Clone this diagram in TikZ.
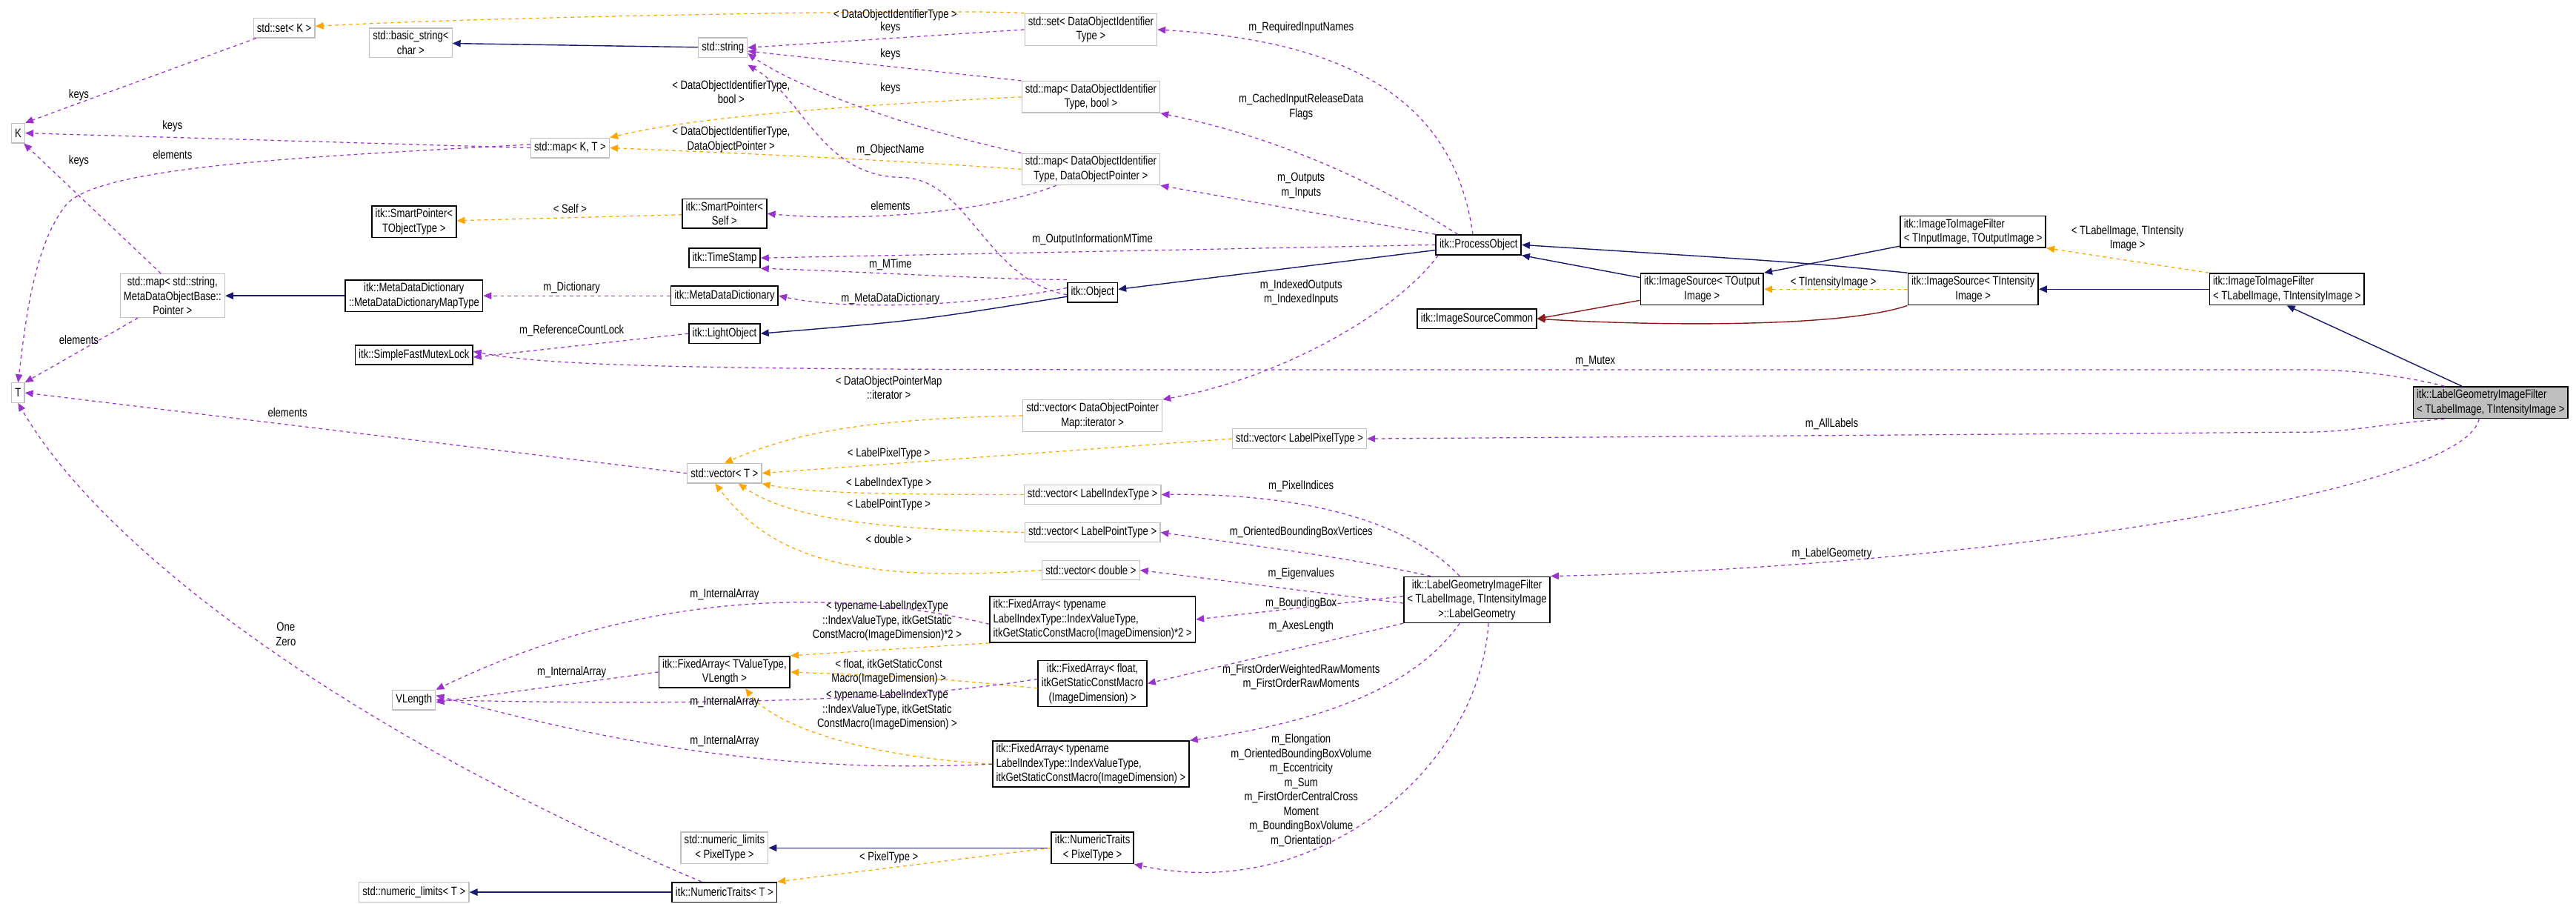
\documentclass[tikz,border=0pt]{standalone}
\usepackage{fontspec}
\setmainfont{Liberation Sans}[FakeStretch=0.8]
\usetikzlibrary{arrows.meta}
\definecolor{pur}{HTML}{9A32CD}
\definecolor{org}{HTML}{FFA500}
\definecolor{blu}{HTML}{191970}
\definecolor{red4}{HTML}{8B1A1A}
\definecolor{gbord}{HTML}{BFBFBF}
\begin{document}
\begin{tikzpicture}[x=0.05cm,y=-0.05cm,font=\fontsize{10.5}{12.5}\selectfont,
 base/.style={rectangle,inner xsep=3pt,inner ysep=2.5pt,minimum height=0.6cm,align=center,fill=white},
 gnode/.style={base,draw=gbord,line width=0.8pt},
 bnode/.style={base,draw=black,line width=1.1pt},
 lbl/.style={align=center,inner sep=1pt},
 use/.style={draw=pur,dashed,line width=0.8pt,-{Triangle[length=7pt,width=6pt]}},
 tmpl/.style={draw=org,dashed,line width=0.8pt,-{Triangle[length=7pt,width=6pt]}},
 inh/.style={draw=blu,line width=0.9pt,-{Triangle[length=7pt,width=6pt]}},
 prot/.style={draw=red4,line width=0.9pt,-{Triangle[length=7pt,width=6pt]}}]
\useasboundingbox (0,0) rectangle (1568,550);
% nodes
\node[gnode] (setK) at (173,17) {std::set\textless{} K \textgreater};
\node[gnode] (bstr) at (250,26) {std::basic\_string\textless\\char \textgreater};
\node[gnode] (str) at (440,29) {std::string};
\node[gnode] (setD) at (664,18) {std::set\textless{} DataObjectIdentifier\\Type \textgreater};
\node[gnode] (mapB) at (664,59) {std::map\textless{} DataObjectIdentifier\\Type, bool \textgreater};
\node[gnode] (mapP) at (664,103) {std::map\textless{} DataObjectIdentifier\\Type, DataObjectPointer \textgreater};
\node[gnode] (K) at (11,81) {K};
\node[gnode] (mapKT) at (347,90) {std::map\textless{} K, T \textgreater};
\node[bnode] (spT) at (252,135) {itk::SmartPointer\textless\\TObjectType \textgreater};
\node[bnode] (spS) at (441,130) {itk::SmartPointer\textless\\Self \textgreater};
\node[bnode] (ts) at (441,157) {itk::TimeStamp};
\node[bnode] (mdd) at (441,180) {itk::MetaDataDictionary};
\node[bnode] (lo) at (441,203) {itk::LightObject};
\node[gnode] (mapS) at (105,180) {std::map\textless{} std::string,\\MetaDataObjectBase::\\Pointer \textgreater};
\node[bnode] (mapT) at (252,180) {itk::MetaDataDictionary\\::MetaDataDictionaryMapType};
\node[bnode] (mutex) at (252,216) {itk::SimpleFastMutexLock};
\node[bnode] (obj) at (665,178) {itk::Object};
\node[bnode] (po) at (900,149) {itk::ProcessObject};
\node[bnode] (isc) at (899,194) {itk::ImageSourceCommon};
\node[bnode] (isO) at (1036,176) {itk::ImageSource\textless{} TOutput\\Image \textgreater};
\node[bnode] (isI) at (1201,176) {itk::ImageSource\textless{} TIntensity\\Image \textgreater};
\node[bnode,align=left] (itiIO) at (1201,141) {itk::ImageToImageFilter\\\textless{} TInputImage, TOutputImage \textgreater};
\node[bnode,align=left] (itiL) at (1392,176) {itk::ImageToImageFilter\\\textless{} TLabelImage, TIntensityImage \textgreater};
\node[bnode,align=left,fill=gbord] (lgif) at (1516,245) {itk::LabelGeometryImageFilter\\\textless{} TLabelImage, TIntensityImage \textgreater};
\node[gnode] (T) at (11,239) {T};
\node[gnode] (vl) at (252,426) {VLength};
\node[gnode] (nlT) at (252,543) {std::numeric\_limits\textless{} T \textgreater};
\node[bnode] (ntT) at (441,543) {itk::NumericTraits\textless{} T \textgreater};
\node[gnode] (nlP) at (441,516) {std::numeric\_limits\\\textless{} PixelType \textgreater};
\node[bnode] (ntP) at (665,516) {itk::NumericTraits\\\textless{} PixelType \textgreater};
\node[gnode] (vT) at (441,288) {std::vector\textless{} T \textgreater};
\node[gnode] (vIt) at (665,253) {std::vector\textless{} DataObjectPointer\\Map::iterator \textgreater};
\node[gnode] (vPix) at (791,267) {std::vector\textless{} LabelPixelType \textgreater};
\node[gnode] (vIdx) at (665,301) {std::vector\textless{} LabelIndexType \textgreater};
\node[gnode] (vPt) at (665,324) {std::vector\textless{} LabelPointType \textgreater};
\node[gnode] (vD) at (664,347) {std::vector\textless{} double \textgreater};
\node[bnode,align=left] (fa2) at (665,377) {itk::FixedArray\textless{} typename\\ LabelIndexType::IndexValueType,\\ itkGetStaticConstMacro(ImageDimension)*2 \textgreater};
\node[bnode] (faTV) at (441,409) {itk::FixedArray\textless{} TValueType,\\VLength \textgreater};
\node[bnode] (faF) at (665,416) {itk::FixedArray\textless{} float,\\itkGetStaticConstMacro\\(ImageDimension) \textgreater};
\node[bnode,align=left] (faI) at (664,465) {itk::FixedArray\textless{} typename\\ LabelIndexType::IndexValueType,\\ itkGetStaticConstMacro(ImageDimension) \textgreater};
\node[bnode] (lg) at (899,365) {itk::LabelGeometryImageFilter\\\textless{} TLabelImage, TIntensityImage\\ \textgreater::LabelGeometry};
% coordinates for routing
\coordinate (mx) at (1403,225);
\coordinate (ax) at (1403,263);
% inheritance
\draw[inh] (str) -- (bstr);
\draw[inh] (mapT) -- (mapS);
\draw[inh] (obj) .. controls (560,195) .. (lo.east);
\draw[inh] (po) -- (obj);
\draw[inh] (isO) -- (po.south east);
\draw[inh] (isI.north west) .. controls (1100,160) .. (po.east);
\draw[inh] (itiIO) -- (isO.north east);
\draw[inh] (itiL) -- (isI);
\draw[inh] (lgif.north west) ++(30,0) -- (itiL.south);
\draw[inh] (ntP) -- (nlP);
\draw[inh] (ntT) -- (nlT);
\draw[prot] (isO) -- (isc.east);
\draw[prot] (isI.south west) .. controls (1120,200) and (1000,198) .. (isc.east);
% template
\draw[tmpl] (setD.north west) .. controls (600,5) and (300,10) .. (setK);
\node[lbl] at (545,9) {\textless{} DataObjectIdentifierType \textgreater};
\draw[tmpl] (mapB.west) .. controls (500,65) and (420,72) .. (mapKT.north east);
\node[lbl] at (445,56) {\textless{} DataObjectIdentifierType,\\bool \textgreater};
\draw[tmpl] (mapP.west) .. controls (520,96) and (420,92) .. (mapKT.east);
\node[lbl] at (445,85) {\textless{} DataObjectIdentifierType,\\DataObjectPointer \textgreater};
\draw[tmpl] (spS) -- (spT);
\node[lbl] at (347,127) {\textless{} Self \textgreater};
\draw[tmpl] (isI) -- (isO);
\node[lbl] at (1116,172) {\textless{} TIntensityImage \textgreater};
\draw[tmpl] (itiL.north west) -- (itiIO.south east);
\node[lbl] at (1295,145) {\textless{} TLabelImage, TIntensity\\Image \textgreater};
\draw[tmpl] (vIt.west) .. controls (520,255) and (480,265) .. (vT.north);
\node[lbl] at (541,236) {\textless{} DataObjectPointerMap\\::iterator \textgreater};
\draw[tmpl] (vPix.west) -- (vT.east);
\node[lbl] at (541,276) {\textless{} LabelPixelType \textgreater};
\draw[tmpl] (vIdx.west) .. controls (540,301) and (490,300) .. (vT.south east);
\node[lbl] at (541,294) {\textless{} LabelIndexType \textgreater};
\draw[tmpl] (vPt.west) .. controls (530,322) and (480,315) .. ([xshift=12]vT.south);
\node[lbl] at (541,307) {\textless{} LabelPointType \textgreater};
\draw[tmpl] (vD.west) .. controls (520,355) and (470,340) .. ([xshift=-8]vT.south);
\node[lbl] at (541,328) {\textless{} double \textgreater};
\draw[tmpl] (fa2.south west) -- (faTV.north east);
\node[lbl] at (540,378) {\textless{} typename LabelIndexType\\::IndexValueType, itkGetStatic\\ConstMacro(ImageDimension)*2 \textgreater};
\draw[tmpl] ([yshift=-4]faF.west) .. controls (560,412) .. (faTV.east);
\node[lbl] at (541,409) {\textless{} float, itkGetStaticConst\\Macro(ImageDimension) \textgreater};
\draw[tmpl] (faI.west) .. controls (520,460) and (470,440) .. ([xshift=18]faTV.south);
\node[lbl] at (540,432) {\textless{} typename LabelIndexType\\::IndexValueType, itkGetStatic\\ConstMacro(ImageDimension) \textgreater};
\draw[tmpl] (ntP.west) -- (ntT.north east);
\node[lbl] at (541,522) {\textless{} PixelType \textgreater};
% usage
\draw[use] (setK) -- (K.north east);
\node[lbl] at (48,58) {keys};
\draw[use] (mapKT.west) -- (K.east);
\node[lbl] at (105,77) {keys};
\draw[use] ([yshift=3]mapKT.west) .. controls (200,95) and (60,100) .. (40,125) .. controls (20,150) and (15,200) .. (T.north);
\node[lbl] at (105,94) {elements};
\draw[use] ([xshift=-10]mapS.north) -- ([xshift=5]K.south);
\node[lbl] at (48,98) {keys};
\draw[use] ([xshift=-30]mapS.south) -- (T.north east);
\node[lbl] at (48,207) {elements};
\draw[use] (setD.west) -- (str.east);
\node[lbl] at (542,17) {keys};
\draw[use] (mapB.north west) -- ([yshift=-3]str.east);
\node[lbl] at (542,33) {keys};
\draw[use] (mapP.north west) .. controls (540,75) and (480,50) .. ([yshift=-5]str.east);
\node[lbl] at (542,54) {keys};
\draw[use] ([yshift=-2]obj.west) .. controls (600,170) and (590,110) .. (550,108) .. controls (500,108) and (490,60) .. ([yshift=-6]str.south east);
\node[lbl] at (542,91) {m\_ObjectName};
\draw[use] ([xshift=-30]mapP.south) .. controls (600,130) and (520,135) .. (spS.east);
\node[lbl] at (542,125) {elements};
\draw[use] ([xshift=-5]po.north) .. controls (885,60) and (820,25) .. (setD.east);
\node[lbl] at (792,17) {m\_RequiredInputNames};
\draw[use] ([xshift=-18]po.north) .. controls (820,100) and (760,80) .. (mapB.south east);
\node[lbl] at (792,65) {m\_CachedInputReleaseData\\Flags};
\draw[use] (po.north west) -- (mapP.south east);
\node[lbl] at (792,113) {m\_Outputs\\m\_Inputs};
\draw[use] (po.west) -- (ts.east);
\node[lbl] at (665,146) {m\_OutputInformationMTime};
\draw[use] ([yshift=2]obj.north west) .. controls (600,170) and (520,165) .. (ts.south east);
\node[lbl] at (542,161) {m\_MTime};
\draw[use] ([yshift=4]obj.west) .. controls (600,185) and (520,190) .. (mdd.east);
\node[lbl] at (542,182) {m\_MetaDataDictionary};
\draw[use] (mdd) -- (mapT);
\node[lbl] at (348,175) {m\_Dictionary};
\draw[use] (lo.west) -- ([yshift=-2]mutex.east);
\node[lbl] at (348,201) {m\_ReferenceCountLock};
\draw[use] ([xshift=-40]lgif.north) .. controls (1460,228) and (1430,225) .. (mx) -- (700,225) .. controls (400,225) and (330,222) .. ([yshift=3]mutex.east);
\node[lbl] at (971,220) {m\_Mutex};
\draw[use] ([xshift=-35]po.south) .. controls (850,190) and (780,230) .. (vIt.north east);
\node[lbl] at (792,178) {m\_IndexedOutputs\\m\_IndexedInputs};
\draw[use] ([xshift=-40]lgif.south) .. controls (1450,258) and (1430,263) .. (ax) -- (vPix.east);
\node[lbl] at (1115,258) {m\_AllLabels};
\draw[use] ([xshift=-10]lgif.south) .. controls (1500,300) and (1200,345) .. (lg.north east);
\node[lbl] at (1115,337) {m\_LabelGeometry};
\draw[use] (vT.west) -- (T.east);
\node[lbl] at (175,251) {elements};
\draw[use] ([xshift=-15]lg.north) .. controls (860,320) and (800,300) .. (vIdx.east);
\node[lbl] at (792,296) {m\_PixelIndices};
\draw[use] ([xshift=-40]lg.north) .. controls (820,340) .. (vPt.east);
\node[lbl] at (792,324) {m\_OrientedBoundingBoxVertices};
\draw[use] ([yshift=-3]lg.west) -- (vD.east);
\node[lbl] at (792,349) {m\_Eigenvalues};
\draw[use] ([yshift=3]lg.west) -- (fa2.east);
\node[lbl] at (792,367) {m\_BoundingBox};
\draw[use] (lg.south west) -- (faF.east);
\node[lbl] at (792,381) {m\_AxesLength};
\draw[use] ([xshift=-15]lg.south) .. controls (860,420) and (800,440) .. (faI.north east);
\node[lbl] at (792,412) {m\_FirstOrderWeightedRawMoments\\m\_FirstOrderRawMoments};
\draw[use] ([xshift=10]lg.south) .. controls (900,470) and (800,550) .. (ntP.south east);
\node[lbl] at (792,481) {m\_Elongation\\m\_OrientedBoundingBoxVolume\\m\_Eccentricity\\m\_Sum\\m\_FirstOrderCentralCross\\Moment\\m\_BoundingBoxVolume\\m\_Orientation};
\draw[use] ([yshift=-4]fa2.west) .. controls (520,360) and (400,355) .. (vl.north east);
\node[lbl] at (441,362) {m\_InternalArray};
\draw[use] (faTV.west) -- ([yshift=-2]vl.east);
\node[lbl] at (348,409) {m\_InternalArray};
\draw[use] ([yshift=4]faF.west) .. controls (560,425) and (450,430) .. (vl.east);
\node[lbl] at (441,427) {m\_InternalArray};
\draw[use] (faI.west) .. controls (500,470) and (400,460) .. ([yshift=4]vl.east);
\node[lbl] at (441,451) {m\_InternalArray};
\draw[use] ([xshift=-20]ntT.north) .. controls (200,440) and (60,330) .. (T.south);
\node[lbl] at (174,386) {One\\Zero};
\end{tikzpicture}
\end{document}
